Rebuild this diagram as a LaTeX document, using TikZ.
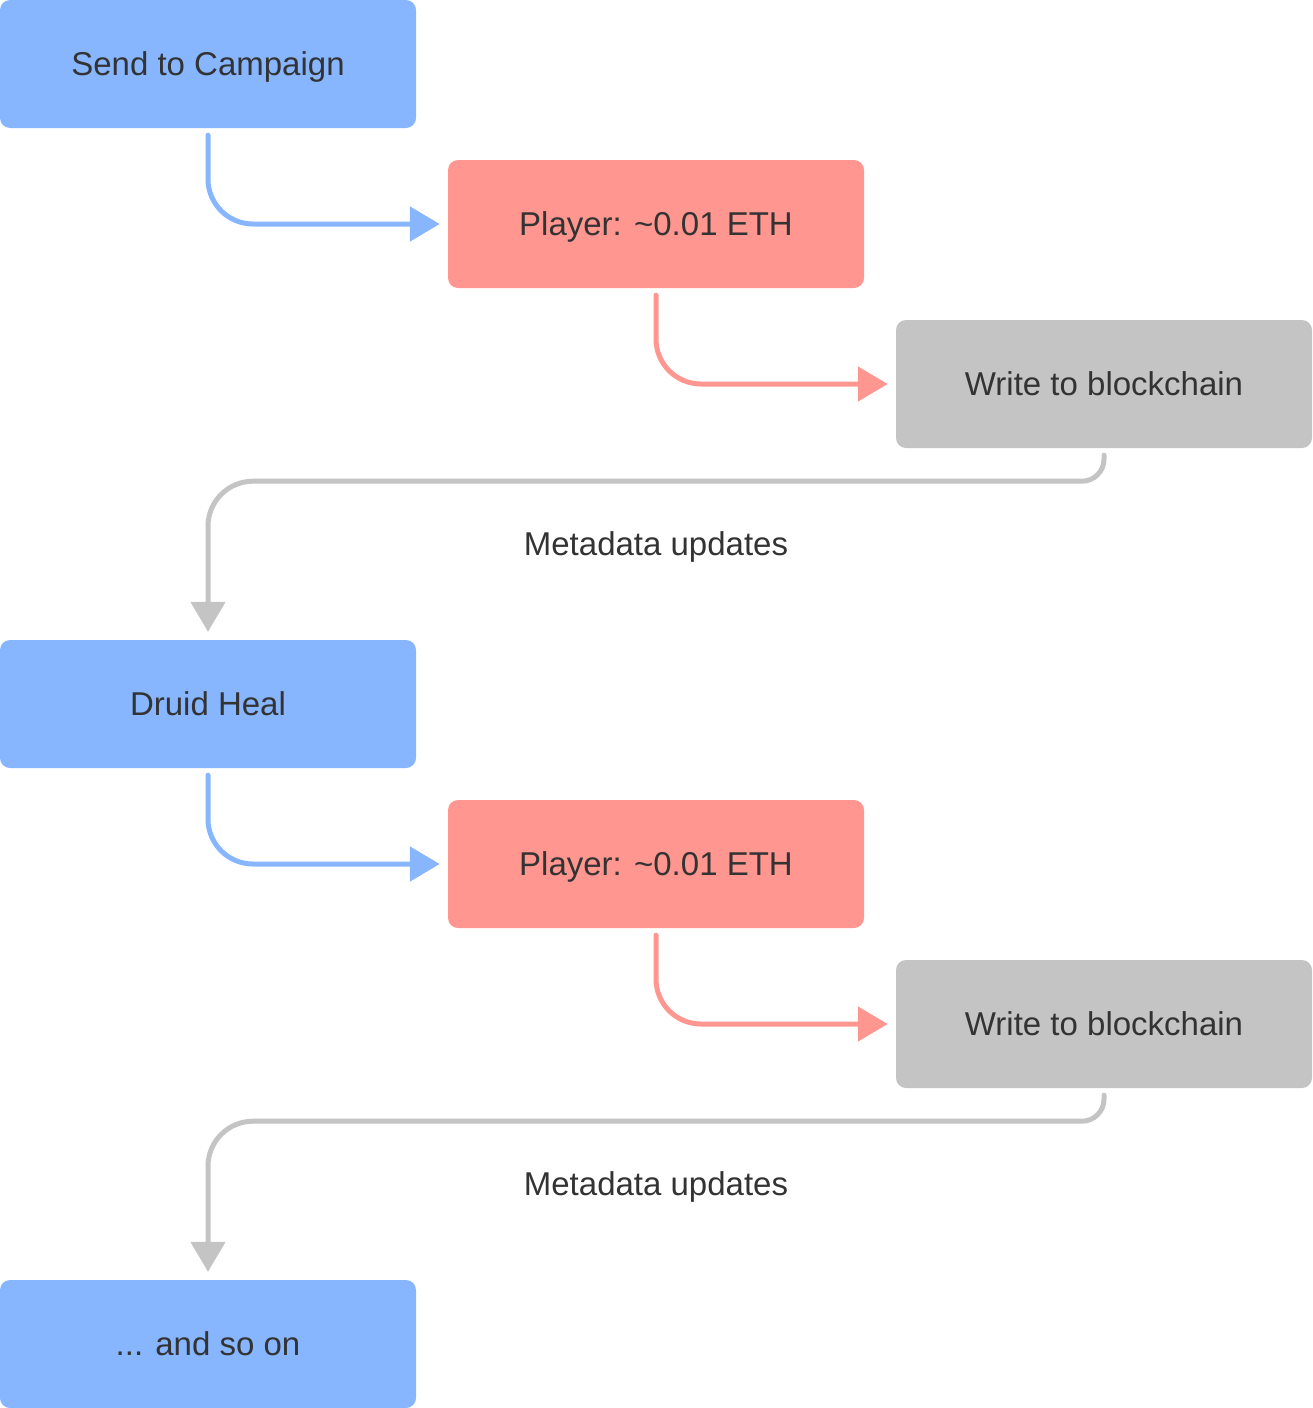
\documentclass[tikz,border=0pt]{standalone}
\usepackage{fontspec}
\setmainfont{Liberation Sans}
\usetikzlibrary{arrows.meta,positioning,calc}
\definecolor{stepBlue}{HTML}{87B6FF}
\definecolor{stepRed}{HTML}{FF9790}
\definecolor{stepGray}{HTML}{C4C4C4}
\definecolor{textColor}{HTML}{333333}
\tikzset{
  steptext/.style={text=textColor, font=\fontsize{33}{40}\selectfont, text height=23pt, text depth=0pt},
  stepbox/.style={steptext, rectangle, rounded corners=10pt, minimum width=416pt, minimum height=128pt,
    inner sep=0pt},
  flow/.style={line width=5pt, line cap=round, rounded corners=45pt,
    -{Triangle[width=34pt,length=30pt]}, shorten <=7pt, shorten >=8pt},
}
\begin{document}
\begin{tikzpicture}[x=1pt,y=1pt,node distance=160pt and 448pt,on grid]
\useasboundingbox (0,0) rectangle (1312,-1408);
\node[stepbox, fill=stepBlue] (send) at (208,-64) {Send to Campaign};
\node[stepbox, fill=stepRed, below right=of send] (player1) {Player: \textasciitilde0.01 ETH};
\node[stepbox, fill=stepGray, below right=of player1] (chain1) {Write to blockchain};
\node[stepbox, fill=stepBlue, below=640pt of send] (druid) {Druid Heal};
\node[stepbox, fill=stepRed, below right=of druid] (player2) {Player: \textasciitilde0.01 ETH};
\node[stepbox, fill=stepGray, below right=of player2] (chain2) {Write to blockchain};
\node[stepbox, fill=stepBlue, below=640pt of druid] (more) {... and so on};
% labels between the rows
\node[steptext] (meta1) at ($(chain1.south)!0.5!(druid.north)$) {Metadata updates};
\node[steptext] (meta2) at ($(chain2.south)!0.5!(more.north)$) {Metadata updates};
% arrows
\draw[flow, stepBlue] (send.south) |- (player1.west);
\draw[flow, stepRed] (player1.south) |- (chain1.west);
\draw[flow, stepGray] (chain1.south) [rounded corners=22pt] -- ++(0,-33pt) [rounded corners=45pt] -| (druid.north);
\draw[flow, stepBlue] (druid.south) |- (player2.west);
\draw[flow, stepRed] (player2.south) |- (chain2.west);
\draw[flow, stepGray] (chain2.south) [rounded corners=22pt] -- ++(0,-33pt) [rounded corners=45pt] -| (more.north);
\end{tikzpicture}
\end{document}
